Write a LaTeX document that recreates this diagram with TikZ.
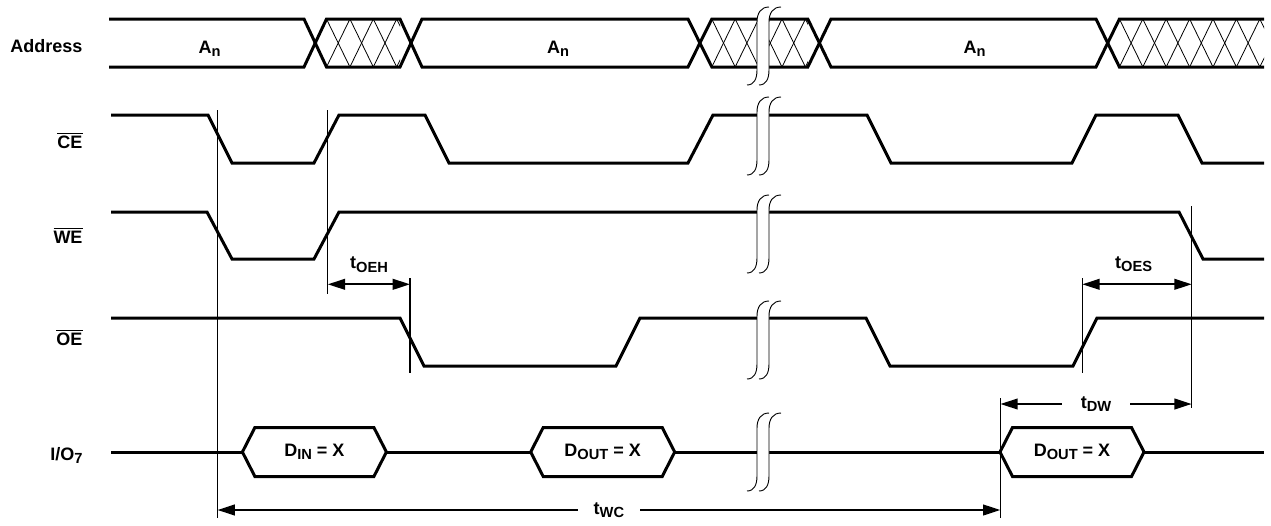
\documentclass[tikz,border=0pt]{standalone}
\usepackage{fontspec}
\setmainfont{Liberation Sans}
\usetikzlibrary{arrows.meta}

\newcommand{\sbs}[1]{\raisebox{-2.7pt}{\fontsize{11}{12}\selectfont #1}}
\newcommand{\ovl}[1]{$\overline{\hbox{#1}}$}

\tikzset{every picture/.style={line width=0.75pt},
  every node/.style={font=\fontsize{13.5}{16}\selectfont\bfseries, inner sep=0.75pt},
  sig/.style={line width=2.25pt},
  refline/.style={line width=1pt},
  hatchline/.style={line width=0.6pt},
  brkline/.style={line width=0.7pt},
  dim/.style={line width=1.5pt, {Triangle[length=13pt,width=8pt]}-{Triangle[length=13pt,width=8pt]}},
  gap/.style={fill=white, inner xsep=12pt, inner ysep=1pt}}

% break mark: x of first curve, middle of the row
\newcommand{\brkmark}[2]{%
  \fill[white] ({#1-10},{#2+39}) .. controls ({#1-3},{#2+39}) and (#1,{#2+33}) .. (#1,{#2+24}) -- (#1,{#2-24}) .. controls (#1,{#2-33}) and ({#1+4},{#2-39}) .. ({#1+12},{#2-39}) -- ({#1+24},{#2-39}) .. controls ({#1+16},{#2-39}) and ({#1+12},{#2-33}) .. ({#1+12},{#2-24}) -- ({#1+12},{#2+24}) .. controls ({#1+12},{#2+33}) and ({#1+9},{#2+39}) .. ({#1+2},{#2+39}) -- cycle;
  \foreach \s in {0,12}
    \draw[brkline] ({#1-10+\s},{#2+39}) .. controls ({#1-3+\s},{#2+39}) and ({#1+\s},{#2+33}) .. ({#1+\s},{#2+24}) -- ({#1+\s},{#2-24}) .. controls ({#1+\s},{#2-33}) and ({#1+4+\s},{#2-39}) .. ({#1+12+\s},{#2-39});
}
% hatched (don't care) part of the address bus
\newcommand{\hatchzone}[2]{%
  \begin{scope}
    \clip (#1,19) rectangle (#2,67);
    \foreach \k in {0,...,7} {
      \draw[hatchline] ({#1+23.4*\k},19) -- ({#1+23.4*(\k+1)},67);
      \draw[hatchline] ({#1+23.4*\k},67) -- ({#1+23.4*(\k+1)},19);
    }
  \end{scope}
}
% data window on I/O7
\newcommand{\databox}[3]{%
  \coordinate (#2w) at ({#1-72},452);
  \coordinate (#2e) at ({#1+72},452);
  \draw[sig] (#2w) -- ++(12.5,-24.5) -- ({#1+59.5},427.5) -- (#2e) -- ({#1+59.5},476.5) -- ({#1-59.5},476.5) -- cycle;
  \node (#2) at (#1,452) {#3};
}

\begin{document}
\begin{tikzpicture}[x=0.75pt,y=0.75pt,yscale=-1,xscale=1]
\useasboundingbox (0,0) rectangle (1271,525);

%Address bus
\hatchzone{326.5}{400}
\hatchzone{711.8}{807.8}
\hatchzone{1119.4}{1264}
\draw[sig] (109,19) -- (304,19) -- (326.5,67) -- (400,67) -- (422,19) -- (688,19) -- (711.8,67) -- (807.8,67) -- (831,19) -- (1096,19) -- (1119.4,67) -- (1264,67);
\draw[sig] (109,67) -- (304,67) -- (326.5,19) -- (400,19) -- (422,67) -- (688,67) -- (711.8,19) -- (807.8,19) -- (831,67) -- (1096,67) -- (1119.4,19) -- (1264,19);

%CE
\draw[sig] (111,115) -- (208,115) -- (232,163) -- (314,163) -- (339,115) -- (425,115) -- (449,163) -- (688,163) -- (713,115) -- (867,115) -- (891,163) -- (1072,163) -- (1096,115) -- (1178,115) -- (1202,163) -- (1264,163);
%WE
\draw[sig] (111,212) -- (207,212) -- (232,259) -- (314,259) -- (339,212) -- (1179,212) -- (1203,259) -- (1264,259);
%OE
\draw[sig] (111,318) -- (400,318) -- (424,366) -- (616,366) -- (640,318) -- (866,318) -- (890,366) -- (1073,366) -- (1097,318) -- (1264,318);

%I/O7
\coordinate (io0) at (111,452);
\coordinate (io1) at (1264,452);
\databox{314.4}{din}{D\sbs{IN} = X}
\databox{602.7}{doutA}{D\sbs{OUT} = X}
\databox{1072}{doutB}{D\sbs{OUT} = X}
\draw[sig] (io0) -- (dinw) (dine) -- (doutAw) (doutAe) -- (doutBw) (doutBe) -- (io1);

%Reference lines
\coordinate (r1t) at (217.5,110);   \coordinate (r1b) at (217.5,518);
\coordinate (r2t) at (327.8,110);   \coordinate (r2b) at (327.8,294);
\coordinate (r3t) at (410,278);     \coordinate (r3b) at (410,373);
\coordinate (r4t) at (1082.3,278);  \coordinate (r4b) at (1082.3,373);
\coordinate (r5t) at (1191.7,206);  \coordinate (r5b) at (1191.7,408);
\coordinate (r6t) at (1000.4,398);  \coordinate (r6b) at (1000.4,518);
\foreach \r in {1,...,6}
  \draw[refline] (r\r t) -- (r\r b);

%Timing arrows
\coordinate (oehL) at (327.8,284.3); \coordinate (oehR) at (410,284.3);
\coordinate (oesL) at (1082.3,284.3); \coordinate (oesR) at (1191.7,284.3);
\coordinate (dwL) at (1000.4,404); \coordinate (dwR) at (1191.7,404);
\coordinate (wcL) at (217.5,510); \coordinate (wcR) at (1000.4,510);
\draw[dim] (oehL) -- (oehR);
\draw[dim] (oesL) -- (oesR);
\draw[dim] (dwL) -- node[gap, inner xsep=14pt] (tdw) {t\sbs{DW}} (dwR);
\draw[dim] (wcL) -- node[gap] (twc) {t\sbs{WC}} (wcR);

%Breaks
\foreach \m in {46,136,234,340,452} {
  \brkmark{757}{\m}
}

% Text Node
\node[anchor=base east] (laddr) at (84,52) {Address};
\node[anchor=base east] (lce) at (84,148) {\ovl{CE}};
\node[anchor=base east] (lwe) at (84,243) {\ovl{WE}};
\node[anchor=base east] (loe) at (84,345) {\ovl{OE}};
\node[anchor=base east] (lio) at (84,460) {I/O\sbs{7}};
\node[anchor=base] (anA) at (209.6,53) {A\sbs{n}};
\node[anchor=base] (anB) at (558,53) {A\sbs{n}};
\node[anchor=base] (anC) at (974.5,53) {A\sbs{n}};
\node[anchor=base] (toeh) at (369,268.5) {t\sbs{OEH}};
\node[anchor=base] (toes) at (1133.7,268) {t\sbs{OES}};

\end{tikzpicture}
\end{document}
